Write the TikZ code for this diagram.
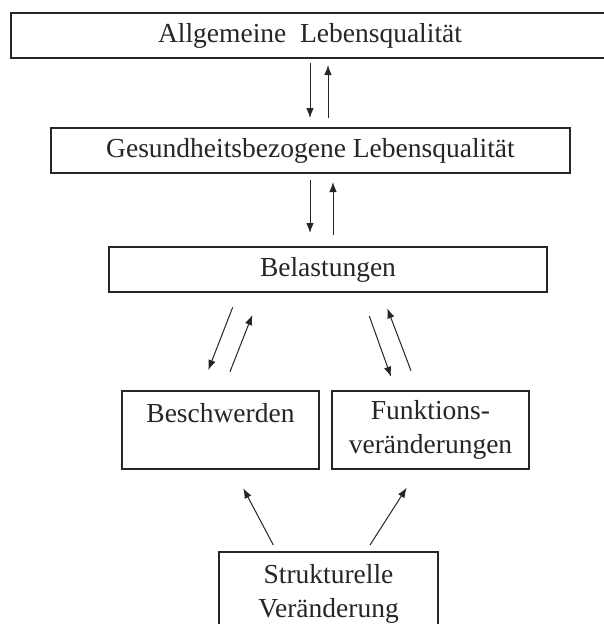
\documentclass[tikz,border=0pt]{standalone}
\usepackage{fontspec}
\setmainfont{Liberation Serif}
\usetikzlibrary{arrows.meta}
\begin{document}
\begin{tikzpicture}[x=1pt,y=-1pt,
  box/.style={draw=black!85,line width=1.3pt,rectangle,inner sep=0pt,align=center,
    font=\fontsize{27.5}{33.5}\selectfont,text=black!85},
  arr/.style={draw=black!85,line width=1pt,-{Latex[length=10pt,width=7.5pt]}}]
\useasboundingbox (0,0) rectangle (603,624);
\fill[white] (0,0) rectangle (603,624);
\node[box,minimum width=598pt,minimum height=45pt] (allg) at (310,35.5) {Allgemeine\ \ Lebensqualität};
\node[box,minimum width=519pt,minimum height=45pt] (ges) at (310.5,150.5) {Gesundheitsbezogene Lebensqualität};
\node[box,minimum width=438pt,minimum height=45pt] (bel) at (328,269.5) {Belastungen};
\node[box,minimum width=197pt,minimum height=78pt] (besch) at (220.5,430) {Beschwerden\\\mbox{}};
\node[box,minimum width=197pt,minimum height=78pt] (funk) at (430.5,430) {Funktions-\\veränderungen};
\node[box,minimum width=219pt,minimum height=84pt] (struk) at (328.5,594) {Strukturelle\\Veränderung};
% connector end points
\coordinate (a1s) at (310,63);   \coordinate (a1e) at (310,118);
\coordinate (b1s) at (328,118);  \coordinate (b1e) at (328,65);
\coordinate (a2s) at (310,180);  \coordinate (a2e) at (310,233);
\coordinate (b2s) at (333,235);  \coordinate (b2e) at (333,182);
\coordinate (l1s) at (232.7,307.3); \coordinate (l1e) at (208.3,370);
\coordinate (l2s) at (230,371.7);   \coordinate (l2e) at (252.3,315);
\coordinate (r1s) at (369.3,316);   \coordinate (r1e) at (391,376.7);
\coordinate (r2s) at (411,370.7);   \coordinate (r2e) at (387.3,308.3);
\coordinate (s1s) at (273.3,545);   \coordinate (s1e) at (243.3,488.3);
\coordinate (s2s) at (370,545);     \coordinate (s2e) at (406.7,487.7);
\draw[arr] (a1s) -- (a1e);
\draw[arr] (b1s) -- (b1e);
\draw[arr] (a2s) -- (a2e);
\draw[arr] (b2s) -- (b2e);
\draw[arr] (l1s) -- (l1e);
\draw[arr] (l2s) -- (l2e);
\draw[arr] (r1s) -- (r1e);
\draw[arr] (r2s) -- (r2e);
\draw[arr] (s1s) -- (s1e);
\draw[arr] (s2s) -- (s2e);
\end{tikzpicture}
\end{document}
